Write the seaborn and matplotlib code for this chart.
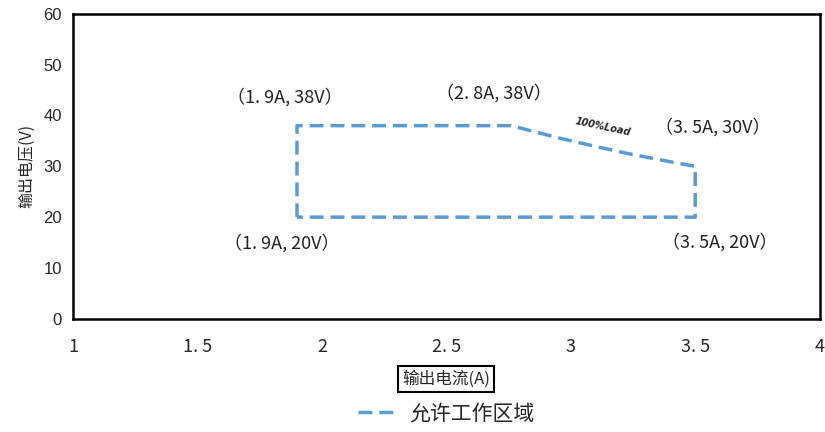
"""Safe operating area chart (output current vs output voltage)"""

import pandas as pd
import matplotlib.pyplot as plt
import seaborn as sns

# Boundary of the allowed working region
current_a = [1.9, 1.9, 2.76, 2.95, 3.1, 3.25, 3.4, 3.5, 3.5, 1.9]
voltage_v = [20, 38, 38, 35.6, 33.9, 32.3, 30.9, 30, 20, 20]

corner_labels = ['（1. 9A, 38V）', '（2. 8A, 38V）', '（3. 5A, 30V）',
                 '（1. 9A, 20V）', '（3. 5A, 20V）']
corner_x = [1.85, 2.69, 3.57, 1.84, 3.6]
corner_y = [43.5, 44.3, 37.6, 14.8, 15.0]

x_ticks = [1, 1.5, 2, 2.5, 3, 3.5, 4]
x_tick_labels = ['1', '1. 5', '2', '2. 5', '3', '3. 5', '4']
y_ticks = [0, 10, 20, 30, 40, 50, 60]

sns.set_style('white')
plt.rcParams['font.family'] = ['Noto Sans CJK SC', 'DejaVu Sans']

df = pd.DataFrame({'current': current_a, 'voltage': voltage_v,
                   'region': '允许工作区域'})

fig = plt.figure(figsize=(8.25, 4.32), dpi=100)
ax = fig.add_axes([0.0885, 0.262, 0.905, 0.706])

sns.lineplot(data=df, x='current', y='voltage', hue='region', sort=False,
             estimator=None, palette=['#5B9BD5'], linewidth=2.5,
             dashes=False, ax=ax)
ax.lines[0].set_dashes([4, 2])

for text, x, y in zip(corner_labels, corner_x, corner_y):
    ax.text(x, y, text, ha='center', va='center', fontsize=13, color='#222222')

ax.text(3.13, 37.8, '100%Load', ha='center', va='center', fontsize=7,
        fontweight='bold', fontstyle='italic', rotation=-12,
        family=['DejaVu Sans'])

ax.set_xlim(1, 4)
ax.set_ylim(0, 60)
ax.set_xticks(x_ticks)
ax.set_xticklabels(x_tick_labels, fontsize=13)
ax.set_yticks(y_ticks)
ax.set_yticklabels([str(v) for v in y_ticks], fontsize=12,
                   family=['Liberation Sans'])
ax.tick_params(axis='x', length=0, pad=14)
ax.tick_params(axis='y', length=0, pad=8)

for spine in ax.spines.values():
    spine.set_color('black')
    spine.set_linewidth(1.8)

ax.set_xlabel('输出电流(A)', fontsize=12, labelpad=10,
              bbox=dict(boxstyle='square,pad=0.25', fc='white', ec='black', lw=1.5))
ax.set_ylabel('输出电压(V)', fontsize=11.5, labelpad=6)

leg = ax.legend(loc='center', bbox_to_anchor=(0.5, -0.31), frameon=False,
                fontsize=15, handlelength=2.0, handletextpad=0.5)
for h in leg.get_lines():
    h.set_linestyle((0, (4, 2)))
    h.set_linewidth(2.5)

fig.savefig('out.png', dpi=100)
